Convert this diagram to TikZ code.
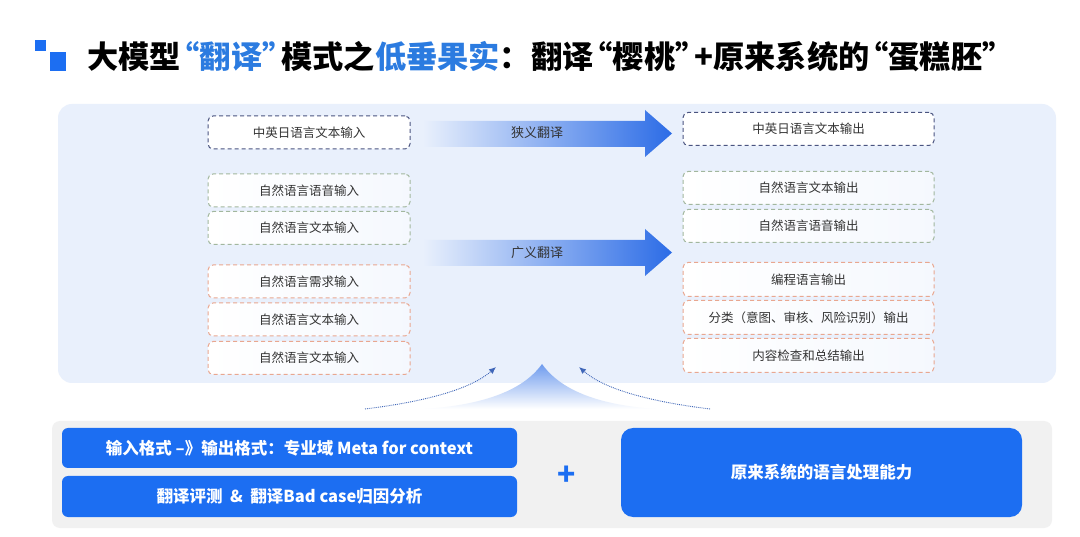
\documentclass[tikz,border=0pt]{standalone}
\usepackage{fontspec}
\setmainfont{Noto Sans CJK SC}
\usetikzlibrary{arrows.meta}
\definecolor{panelblue}{HTML}{E9F0FC}
\definecolor{panelgray}{HTML}{F1F1F1}
\definecolor{brandblue}{HTML}{1C6EF2}
\definecolor{titleblue}{HTML}{2B7BE0}
\definecolor{darkdash}{HTML}{4A5480}
\definecolor{greendash}{HTML}{A2B79E}
\definecolor{orangedash}{HTML}{E9A790}
\definecolor{boxtext}{HTML}{333333}
\definecolor{arrowblue}{HTML}{2C6CE6}
\definecolor{fanblue}{HTML}{6E9BEE}
\definecolor{dotblue}{HTML}{3F66B8}
\newcommand{\oq}{\hspace{-12pt}“}
\newcommand{\cq}{”\hspace{-12pt}}
\tikzset{
  iobox/.style={draw, line width=1pt, dash pattern=on 4pt off 3pt, rounded corners=5pt,
    minimum height=33pt, inner sep=0pt, text=boxtext,
    font=\fontsize{12.5}{13}\selectfont, left color=white, right color=white!55!panelblue},
  inbox/.style={iobox, minimum width=202pt},
  outbox/.style={iobox, minimum width=251pt},
  darkbox/.style={draw=darkdash, fill=white, left color=white, right color=white},
  greenbox/.style={draw=greendash},
  orangebox/.style={draw=orangedash},
  bluebox/.style={fill=brandblue, text=white, inner sep=0pt, font=\fontsize{16.5}{17}\bfseries},
  arrowlabel/.style={text=boxtext, font=\fontsize{13}{14}\selectfont},
  dotarrow/.style={dotblue, line width=0.9pt, densely dotted, -{Latex[length=7pt,width=6pt]}},
}
\begin{document}
\begin{tikzpicture}[x=1pt,y=-1pt]
\useasboundingbox (0,0) rectangle (1080,537);
\fill[white] (0,0) rectangle (1080,537);
% title icon
\fill[brandblue] (35,40) rectangle (46,51);
\fill[brandblue] (50,52) rectangle (66,71);
% title
\node[anchor=west, inner sep=0pt, font=\fontsize{31.2}{33}\bfseries, text=black] (title) at (87,57)
  {大模型\textcolor{titleblue}{\oq 翻译\cq}模式之\textcolor{titleblue}{低垂果实}：翻译\oq 樱桃\cq+原来系统的\oq 蛋糕胚\cq};
% panels
\fill[panelblue, rounded corners=14pt] (58,104) rectangle (1056,383);
\fill[panelgray, rounded corners=8pt] (52,421) rectangle (1052,528);
% arrows
\shade[left color=panelblue, right color=arrowblue]
  (423,121) -- (645,121) -- (645,110) -- (672,133.5) -- (645,157) -- (645,147) -- (423,147) -- cycle;
\shade[left color=panelblue, right color=arrowblue]
  (423,240) -- (645,240) -- (645,229) -- (672,252.5) -- (645,276) -- (645,266) -- (423,266) -- cycle;
\node[arrowlabel] (narrow) at (537,133) {狭义翻译};
\node[arrowlabel] (broad) at (537,253) {广义翻译};
% input boxes
\node[inbox, darkbox] (L1) at (309,132.5) {中英日语言文本输入};
\node[inbox, greenbox] (L2) at (309,190.5) {自然语言语音输入};
\node[inbox, greenbox] (L3) at (309,228) {自然语言文本输入};
\node[inbox, orangebox] (L4) at (309,281.5) {自然语言需求输入};
\node[inbox, orangebox] (L5) at (309,319.5) {自然语言文本输入};
\node[inbox, orangebox] (L6) at (309,358) {自然语言文本输入};
% output boxes
\node[outbox, darkbox] (R1) at (808.5,129) {中英日语言文本输出};
\node[outbox, greenbox] (R2) at (808.5,188) {自然语言文本输出};
\node[outbox, greenbox] (R3) at (808.5,226) {自然语言语音输出};
\node[outbox, orangebox, minimum height=34pt] (R4) at (808.5,279.5) {编程语言输出};
\node[outbox, orangebox, minimum height=34pt] (R5) at (808.5,317.5) {分类（意图、审核、风险识别）输出};
\node[outbox, orangebox, minimum height=34pt] (R6) at (808.5,355.5) {内容检查和总结输出};
% fan
\coordinate (fanapex) at (542,364);
\shade[top color=fanblue, bottom color=white]
  (fanapex) .. controls (522,392) and (480,405) .. (425,409) -- (655,409)
  .. controls (602,405) and (562,392) .. (fanapex) -- cycle;
% dotted arrows
\coordinate (ls) at (365,409);
\coordinate (le) at (496,367);
\coordinate (rs) at (710,409);
\coordinate (re) at (579,367);
\draw[dotarrow] (ls) .. controls (430,401) and (472,388) .. (le);
\draw[dotarrow] (rs) .. controls (645,401) and (603,388) .. (re);
% bottom boxes
\node[bluebox, rounded corners=6pt, minimum width=455pt, minimum height=40pt] (B1) at (289.5,448)
  {输入格式 –》输出格式：专业域 Meta for context};
\node[bluebox, rounded corners=6pt, minimum width=455pt, minimum height=41pt] (B2) at (289.5,496.5)
  {翻译评测 \ \& \ 翻译Bad case归因分析};
\node[text=brandblue, font=\fontsize{30}{30}\bfseries, inner sep=0pt] (plus) at (567,476) {+};
\node[bluebox, rounded corners=12pt, minimum width=401pt, minimum height=89pt,
  font=\fontsize{16.5}{17}\bfseries] (B3) at (821.5,472.5) {原来系统的语言处理能力};
\end{tikzpicture}
\end{document}
